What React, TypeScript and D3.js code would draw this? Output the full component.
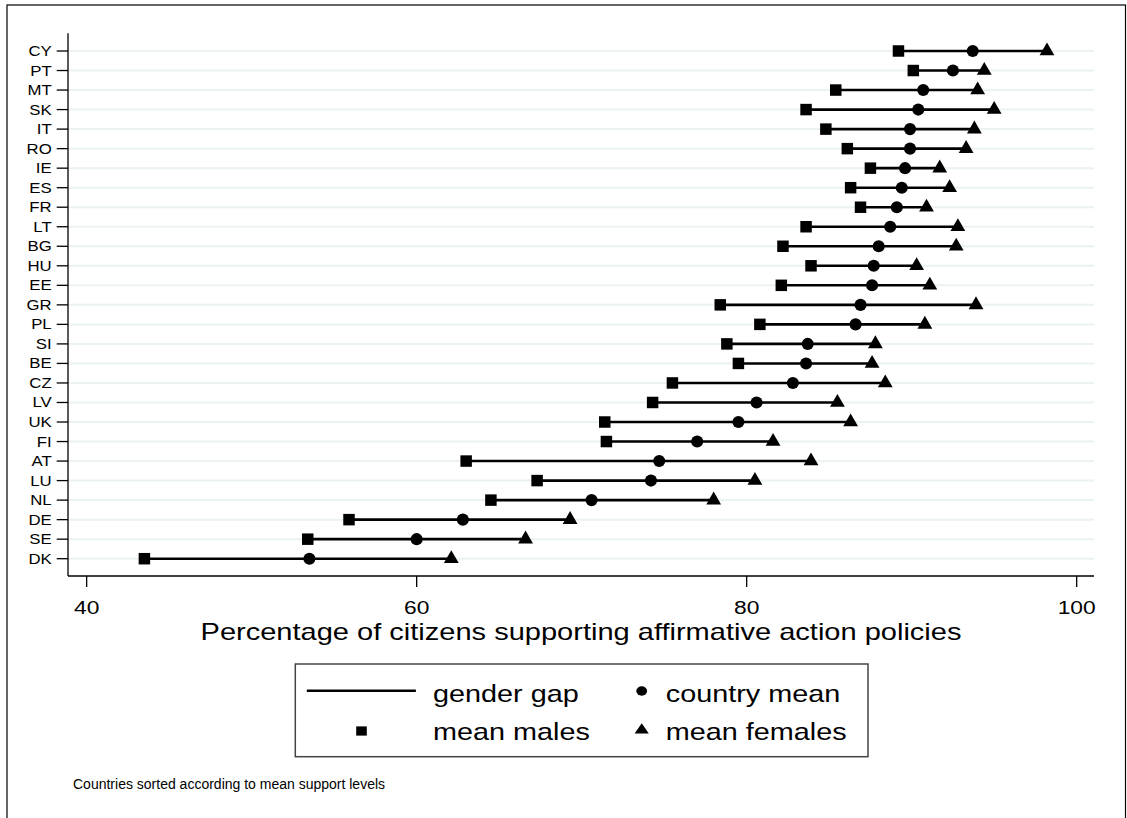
import React from "react";
import * as d3 from "d3";

const countries = ["CY", "PT", "MT", "SK", "IT", "RO", "IE", "ES", "FR", "LT", "BG", "HU", "EE", "GR", "PL", "SI", "BE", "CZ", "LV", "UK", "FI", "AT", "LU", "NL", "DE", "SE", "DK"];
const meanMales = [89.2, 90.1, 85.4, 83.6, 84.8, 86.1, 87.5, 86.3, 86.9, 83.6, 82.2, 83.9, 82.1, 78.4, 80.8, 78.8, 79.5, 75.5, 74.3, 71.4, 71.5, 63.0, 67.3, 64.5, 55.9, 53.4, 43.5];
const countryMean = [93.7, 92.5, 90.7, 90.4, 89.9, 89.9, 89.6, 89.4, 89.1, 88.7, 88.0, 87.7, 87.6, 86.9, 86.6, 83.7, 83.6, 82.8, 80.6, 79.5, 77.0, 74.7, 74.2, 70.6, 62.8, 60.0, 53.5];
const meanFemales = [98.2, 94.4, 94.0, 95.0, 93.8, 93.3, 91.7, 92.3, 90.9, 92.8, 92.7, 90.3, 91.1, 93.9, 90.8, 87.8, 87.6, 88.4, 85.5, 86.3, 81.6, 83.9, 80.5, 78.0, 69.3, 66.6, 62.1];
const xTicks = [40, 60, 80, 100];

const W = 1127;
const H = 818;
const font = "'Liberation Sans', Arial, Helvetica, sans-serif";

// stretched text helper, the original text is a bit wide
const T = ({ x, y, size, anchor = "start", sx = 1.2, children }: any) => (
  <text
    transform={`translate(${x},${y}) scale(${sx},1)`}
    fontSize={size}
    textAnchor={anchor}
    fontFamily={font}
    fill="#000"
  >
    {children}
  </text>
);

const square = d3.symbol().type(d3.symbolSquare);
const circle = d3.symbol().type(d3.symbolCircle);
const triangle = d3.symbol().type(d3.symbolTriangle);

export default function App() {
  const left = 68;
  const right = 1094;
  const axisY = 576;

  const x = d3.scaleLinear().domain([38.87, 101.05]).range([left, right]);
  const y = d3.scalePoint<string>().domain(countries).range([51, 558.7]);

  const rows = countries.map((c, i) => ({
    c,
    m: meanMales[i],
    mean: countryMean[i],
    f: meanFemales[i],
  }));

  return (
    <svg
      width={W}
      height={H}
      style={{ position: "absolute", left: 0, top: 0, background: "#fff" }}
    >
      <rect x={0} y={0} width={W} height={H} fill="#fff" />
      {/* outer frame */}
      <rect x={7} y={5} width={1118.5} height={900} fill="none" stroke="#000" strokeWidth={1.2} />

      {/* grid lines */}
      {countries.map((c) => (
        <line key={"g" + c} x1={left} x2={right} y1={y(c)} y2={y(c)} stroke="#eaf2f3" strokeWidth={2} />
      ))}

      {/* y axis */}
      <line x1={left} x2={left} y1={33.3} y2={axisY} stroke="#000" strokeWidth={1.3} />
      {countries.map((c) => (
        <g key={"yt" + c}>
          <line x1={56.7} x2={left} y1={y(c)} y2={y(c)} stroke="#000" strokeWidth={1.3} />
          <T x={51.7} y={y(c)! + 5} size={14} anchor="end">{c}</T>
        </g>
      ))}

      {/* x axis */}
      <line x1={left} x2={right} y1={axisY} y2={axisY} stroke="#000" strokeWidth={1.3} />
      {xTicks.map((t) => (
        <g key={"xt" + t}>
          <line x1={x(t)} x2={x(t)} y1={axisY} y2={axisY + 11} stroke="#000" strokeWidth={1.3} />
          <T x={x(t)} y={614} size={19} anchor="middle">{t}</T>
        </g>
      ))}
      <T x={(left + right) / 2} y={640} size={24} sx={1.21} anchor="middle">
        Percentage of citizens supporting affirmative action policies
      </T>

      {/* dumbbells */}
      {rows.map((r) => {
        const yy = y(r.c)!;
        return (
          <g key={"r" + r.c}>
            <line x1={x(r.m)} x2={x(r.f)} y1={yy} y2={yy} stroke="#000" strokeWidth={2.6} />
            <path d={square.size(132)()!} transform={`translate(${x(r.m)},${yy})`} fill="#000" />
            <path d={circle.size(115)()!} transform={`translate(${x(r.mean)},${yy})`} fill="#000" />
            <path d={triangle.size(95)()!} transform={`translate(${x(r.f)},${yy})`} fill="#000" />
          </g>
        );
      })}

      {/* legend */}
      <rect x={295.3} y={664} width={572.7} height={92.7} fill="#fff" stroke="#444" strokeWidth={1.5} />
      <line x1={306.8} x2={415.9} y1={690.7} y2={690.7} stroke="#000" strokeWidth={2.4} />
      <T x={433} y={701.7} size={24}>gender gap</T>
      <path d={circle.size(70)()!} transform={`translate(641.7,691) scale(1.15,1)`} fill="#000" />
      <T x={665.8} y={701.7} size={24}>country mean</T>
      <path d={square.size(85)()!} transform={`translate(361.5,731) scale(1.15,1)`} fill="#000" />
      <T x={433} y={740} size={24}>mean males</T>
      <path d={triangle.size(60)()!} transform={`translate(641.7,730) scale(1.2,1)`} fill="#000" />
      <T x={665.8} y={740} size={24}>mean females</T>

      {/* note */}
      <T x={73} y={789} size={14} sx={1.0}>Countries sorted according to mean support levels</T>
    </svg>
  );
}
